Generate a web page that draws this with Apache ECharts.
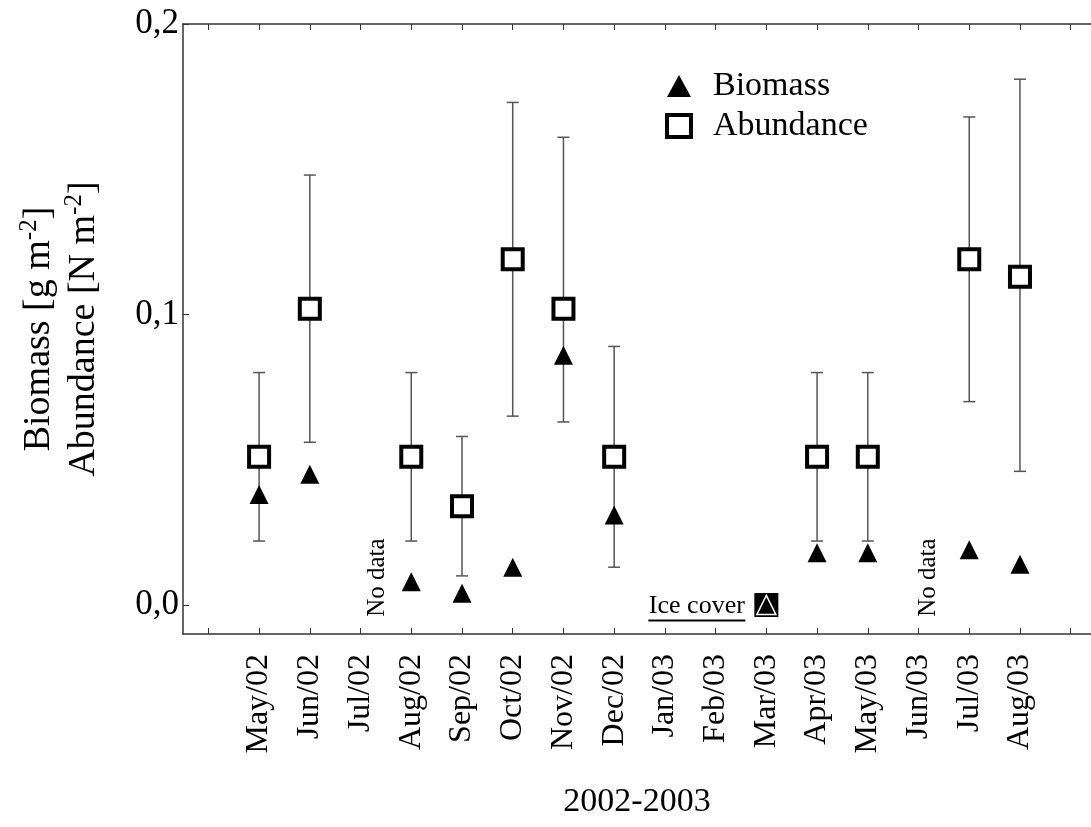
<!DOCTYPE html>
<html>
<head>
<meta charset="utf-8">
<script src="https://cdn.jsdelivr.net/npm/echarts@6/dist/echarts.min.js"></script>
<style>
  html, body { margin: 0; padding: 0; background: #fff; }
  #chart { width: 1091px; height: 827px; }
</style>
</head>
<body>
<div id="chart"></div>
<script>
// monthly sampling, 2002-2003
const months = ['May/02', 'Jun/02', 'Jul/02', 'Aug/02', 'Sep/02', 'Oct/02', 'Nov/02', 'Dec/02',
  'Jan/03', 'Feb/03', 'Mar/03', 'Apr/03', 'May/03', 'Jun/03', 'Jul/03', 'Aug/03']
const biomass = [0.038, 0.045, null, 0.008, 0.004, 0.013, 0.086, 0.031,
  null, null, 0, 0.018, 0.018, null, 0.019, 0.014]
const abundance = [0.051, 0.102, null, 0.051, 0.034, 0.119, 0.102, 0.051,
  null, null, 0, 0.051, 0.051, null, 0.119, 0.113]
const abundanceLow = [0.022, 0.056, null, 0.022, 0.010, 0.065, 0.063, 0.013,
  null, null, null, 0.022, 0.022, null, 0.070, 0.046]
const abundanceHigh = [0.080, 0.148, null, 0.080, 0.058, 0.173, 0.161, 0.089,
  null, null, null, 0.080, 0.080, null, 0.168, 0.181]
const yTicks = [0, 0.1, 0.2]
const iceMonth = 'Mar/03'

const FONT = "'Liberation Serif', 'Times New Roman', serif"
const AXIS = '#333'

const monthIdx = months.map((m, i) => i)
const xTicks = [-1].concat(monthIdx, [months.length])

const biomassData = []
const abundanceData = []
const errorData = []
monthIdx.forEach(i => {
  if (biomass[i] != null) {
    biomassData.push(months[i] === iceMonth
      ? { value: [i, biomass[i]], itemStyle: { borderColor: '#fff', borderWidth: 1.5 } }
      : [i, biomass[i]])
  }
  if (abundance[i] != null) {
    abundanceData.push(months[i] === iceMonth
      ? { value: [i, abundance[i]], itemStyle: { color: '#000' } }
      : [i, abundance[i]])
  }
  if (abundanceLow[i] != null) errorData.push([i, abundanceLow[i], abundanceHigh[i]])
})

const iceIdx = months.indexOf(iceMonth)

const chart = echarts.init(document.getElementById('chart'))
chart.setOption({
  animation: false,
  textStyle: { fontFamily: FONT, color: '#000' },
  grid: { left: 183, right: 0, top: 24, bottom: 193, outerBoundsMode: 'none' },
  legend: {
    orient: 'vertical',
    left: 660,
    top: 64,
    itemWidth: 24,
    itemHeight: 22,
    itemGap: 6,
    data: [
      { name: 'Biomass' },
      { name: 'Abundance', itemStyle: { borderWidth: 4, borderColor: '#000', color: '#fff' } }
    ],
    formatter: name => '  ' + name,
    textStyle: { fontFamily: FONT, fontSize: 34, color: '#000' }
  },
  xAxis: [{
    type: 'value',
    min: -1.5,
    max: 16.4,
    position: 'bottom',
    name: '2002-2003',
    nameLocation: 'middle',
    nameGap: 151,
    nameTextStyle: { fontFamily: FONT, fontSize: 34, color: '#000' },
    axisLine: { onZero: false, lineStyle: { color: AXIS, width: 1.5 } },
    axisTick: { inside: true, length: 6, customValues: xTicks, lineStyle: { color: AXIS } },
    axisLabel: {
      customValues: monthIdx,
      rotate: 90,
      margin: 20,
      fontFamily: FONT,
      fontSize: 32,
      color: '#000',
      formatter: v => months[Math.round(v)] || ''
    },
    splitLine: { show: false }
  }, {
    type: 'value',
    min: -1.5,
    max: 16.4,
    position: 'top',
    axisLine: { onZero: false, lineStyle: { color: AXIS, width: 1.5 } },
    axisTick: { inside: true, length: 6, customValues: xTicks, lineStyle: { color: AXIS } },
    axisLabel: { show: false },
    splitLine: { show: false }
  }],
  yAxis: {
    type: 'value',
    min: -0.01,
    max: 0.2,
    name: '{a|Biomass [g m}{s|-2}{a|]}\n{a|Abundance [N m}{s|-2}{a|]}',
    nameLocation: 'middle',
    nameRotate: 90,
    nameGap: 76,
    nameTextStyle: {
      rich: {
        a: { fontFamily: FONT, fontSize: 38, lineHeight: 45, color: '#000' },
        s: { fontFamily: FONT, fontSize: 25, lineHeight: 26, verticalAlign: 'top', color: '#000' }
      }
    },
    axisLine: { show: true, onZero: false, lineStyle: { color: AXIS, width: 1.5 } },
    axisTick: { show: true, inside: true, length: 6, customValues: yTicks, lineStyle: { color: AXIS } },
    axisLabel: {
      customValues: yTicks,
      margin: 4,
      fontFamily: FONT,
      fontSize: 35,
      color: '#000',
      formatter: v => v.toFixed(1).replace('.', ',')
    },
    splitLine: { show: false }
  },
  series: [{
    name: 'errors',
    type: 'custom',
    z: 1,
    silent: true,
    encode: { x: 0, y: [1, 2] },
    data: errorData,
    renderItem(params, api) {
      const x = api.value(0)
      const lo = api.coord([x, api.value(1)])
      const hi = api.coord([x, api.value(2)])
      const w = 6
      const style = { stroke: '#555', lineWidth: 1.5 }
      return {
        type: 'group',
        children: [
          { type: 'line', shape: { x1: lo[0], y1: lo[1], x2: hi[0], y2: hi[1] }, style },
          { type: 'line', shape: { x1: lo[0] - w, y1: lo[1], x2: lo[0] + w, y2: lo[1] }, style },
          { type: 'line', shape: { x1: hi[0] - w, y1: hi[1], x2: hi[0] + w, y2: hi[1] }, style }
        ]
      }
    }
  }, {
    name: 'Abundance',
    type: 'scatter',
    z: 2,
    symbol: 'rect',
    symbolSize: 20,
    itemStyle: { color: '#fff', borderColor: '#000', borderWidth: 4, opacity: 1 },
    data: abundanceData
  }, {
    name: 'Biomass',
    type: 'scatter',
    z: 3,
    symbol: 'triangle',
    symbolSize: 19,
    itemStyle: { color: '#000', opacity: 1 },
    data: biomassData
  }, {
    name: 'notes',
    type: 'scatter',
    z: 4,
    silent: true,
    symbolSize: 0,
    itemStyle: { color: '#fff', opacity: 1 },
    label: { show: true, position: 'inside', fontFamily: FONT, color: '#000' },
    data: [
      { value: [2.33, 0.0094], label: { formatter: 'No data', rotate: 90, fontSize: 25 } },
      { value: [13.2, 0.0094], label: { formatter: 'No data', rotate: 90, fontSize: 25 } },
      {
        value: [iceIdx - 1.37, -0.0009],
        label: {
          formatter: '{t|Ice cover}\n{u|}',
          rich: {
            t: { fontFamily: FONT, fontSize: 26, lineHeight: 26, color: '#000' },
            u: { width: 97, height: 2, backgroundColor: '#000' }
          }
        }
      }
    ]
  }]
})
</script>
</body>
</html>
